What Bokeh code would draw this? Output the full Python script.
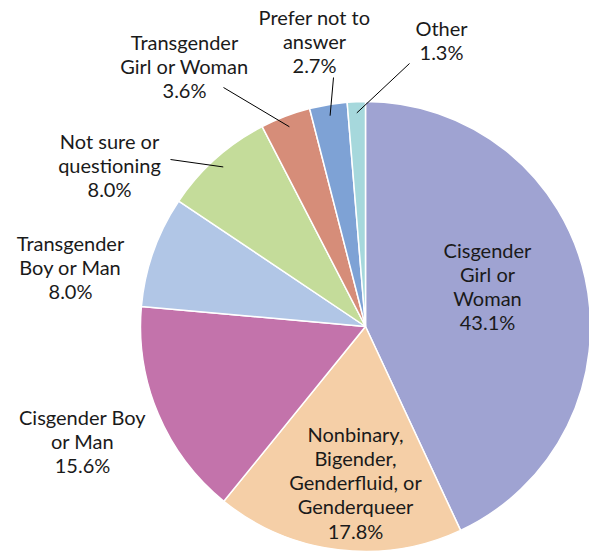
import math
from bokeh.plotting import figure
from bokeh.models import Range1d, ColumnDataSource
from bokeh.core.properties import value
from bokeh.embed import file_html
from bokeh.resources import INLINE

# ---- data ----
categories = ["Cisgender Girl or Woman",
              "Nonbinary, Bigender, Genderfluid, or Genderqueer",
              "Cisgender Boy or Man",
              "Transgender Boy or Man",
              "Not sure or questioning",
              "Transgender Girl or Woman",
              "Prefer not to answer",
              "Other"]
percent = [43.1, 17.8, 15.6, 8.0, 8.0, 3.6, 2.7, 1.3]
label_lines = [["Cisgender", "Girl or", "Woman"],
               ["Nonbinary,", "Bigender,", "Genderfluid, or", "Genderqueer"],
               ["Cisgender Boy", "or Man"],
               ["Transgender", "Boy or Man"],
               ["Not sure or", "questioning"],
               ["Transgender", "Girl or Woman"],
               ["Prefer not to", "answer"],
               ["Other"]]
colors = ["#9FA3D2", "#F5CFA7", "#C373AB", "#B1C6E6", "#C4DC9A",
          "#D68D79", "#7EA2D5", "#A6D8DC"]

# ---- layout (picture pixel coords: label centre x, first line y, leader outer end) ----
label_pos = [(487, 249, None), (355, 433, None), (82, 416, None), (70, 242, None),
             (109, 140, (170, 159)), (184, 41, (223, 87)),
             (314, 16, (333, 77)), (441, 27, (409, 63))]
W, H = 589, 551
CX, CY_IMG, R = 365, 326, 225
LINE_STEP = 24.3
FONT = "Lato"

def Y(img_y):
    return H - img_y

p = figure(width=W, height=H, output_backend="svg", toolbar_location=None,
           x_range=Range1d(0, W), y_range=Range1d(0, H),
           min_border=0, outline_line_color=None)
p.axis.visible = False
p.grid.visible = False
p.background_fill_color = "white"
p.border_fill_color = "white"

total = sum(percent)
starts, ends, mids = [], [], []
cum = 0.0
for v in percent:
    a0 = math.pi / 2 - 2 * math.pi * cum / total
    a1 = math.pi / 2 - 2 * math.pi * (cum + v) / total
    starts.append(a0)
    ends.append(a1)
    mids.append((a0 + a1) / 2)
    cum += v

src = ColumnDataSource(dict(cat=categories, pct=percent, start=starts, end=ends, color=colors))
p.wedge(x=CX, y=Y(CY_IMG), radius=R, start_angle="start", end_angle="end",
        direction="clock", fill_color="color", line_color="white", line_width=1.5,
        source=src)

# labels
tx, ty, tt = [], [], []
for i, (lines, v) in enumerate(zip(label_lines, percent)):
    cx, y0, _ = label_pos[i]
    allines = lines + [f"{v:.1f}%"]
    for k, s in enumerate(allines):
        tx.append(cx)
        ty.append(Y(y0 + k * LINE_STEP))
        tt.append(s)
p.text(x=tx, y=ty, text=tt, text_font=value(FONT), text_font_size="20px",
       text_align="center", text_baseline="middle", text_color="#1a1a1a")

# leader lines
lx, ly = [], []
for i, (_, _, outer) in enumerate(label_pos):
    if outer is None:
        continue
    ang = mids[i]
    r_in = R * 0.95
    ix = CX + r_in * math.cos(ang)
    iy = Y(CY_IMG) + r_in * math.sin(ang)
    lx.append([outer[0], ix])
    ly.append([Y(outer[1]), iy])
p.multi_line(xs=lx, ys=ly, line_color="black", line_width=1)

open("out.html", "w").write(file_html(p, INLINE))
